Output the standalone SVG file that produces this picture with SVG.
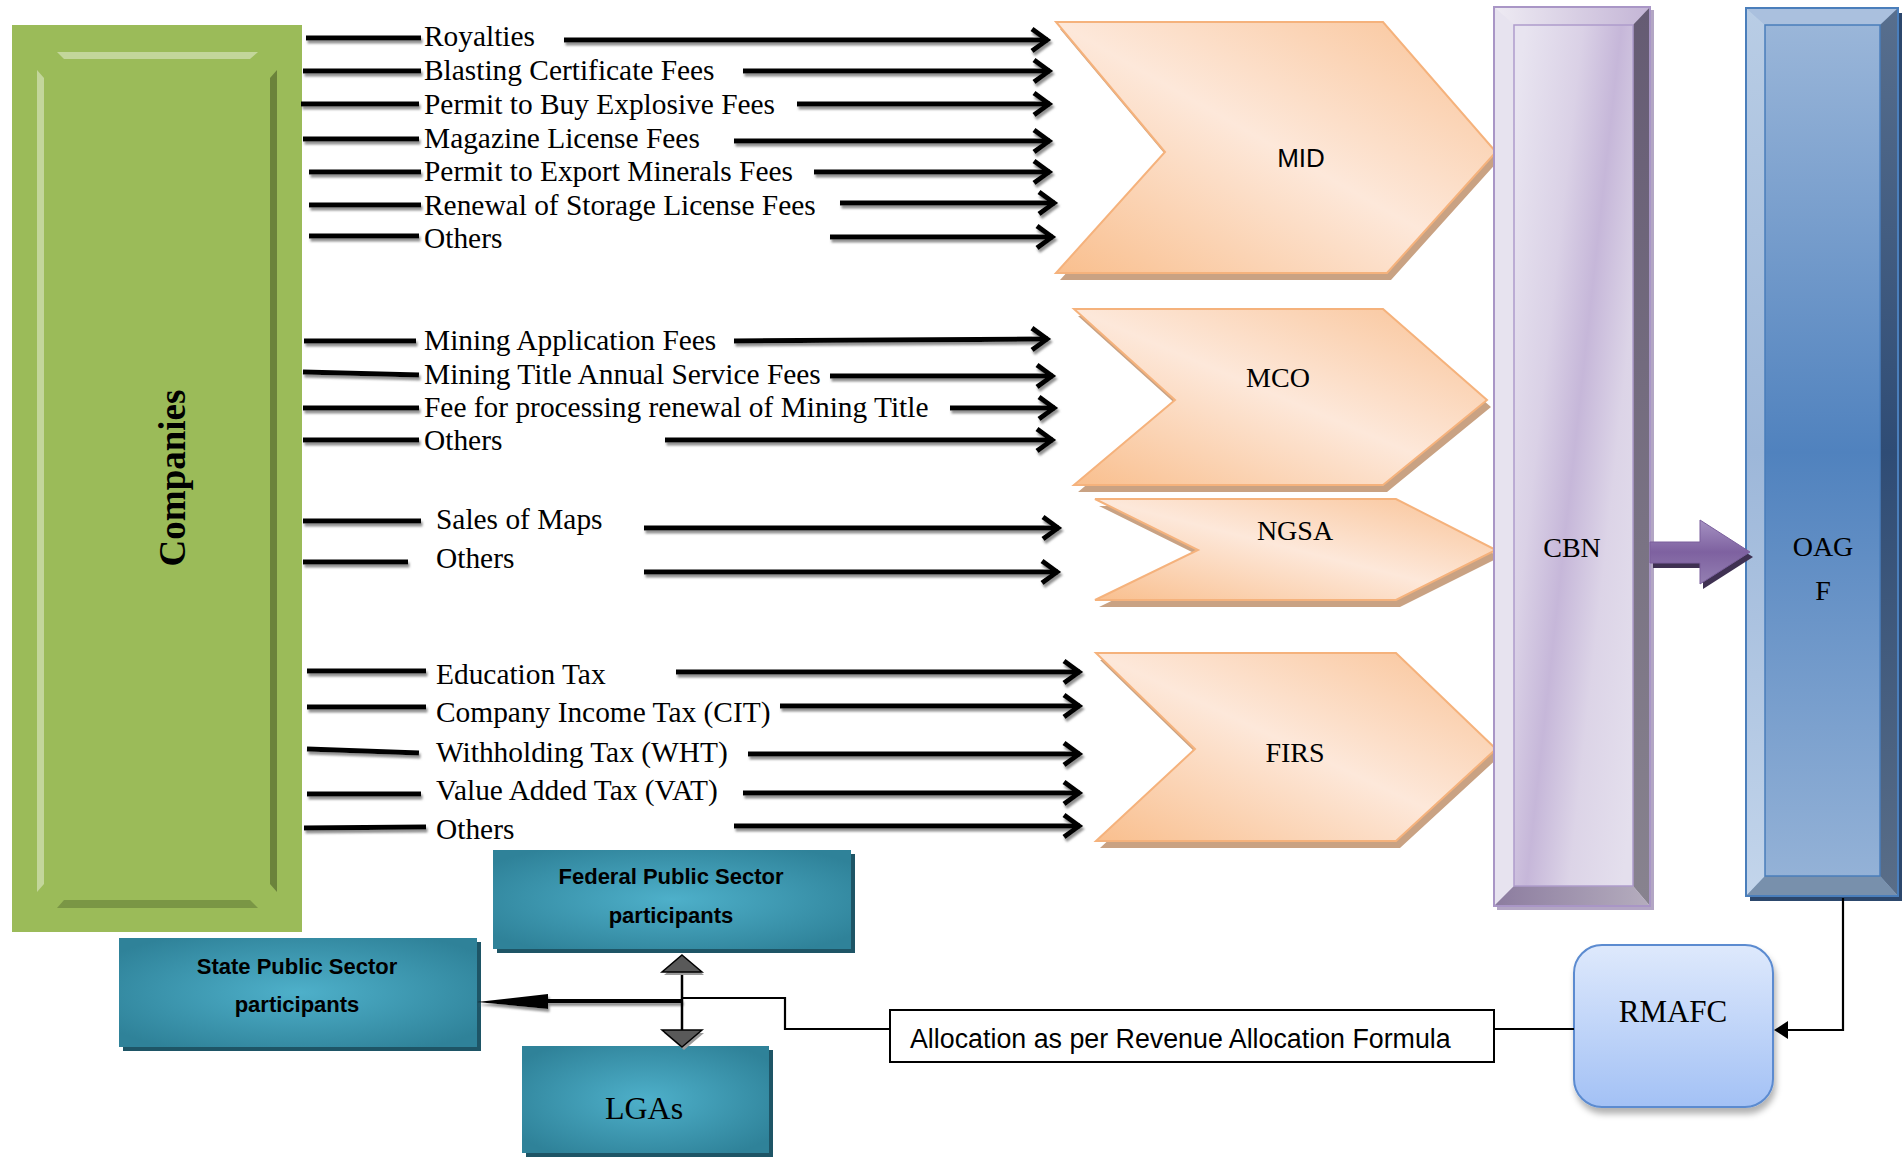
<svg xmlns="http://www.w3.org/2000/svg" width="1903" height="1157" viewBox="0 0 1903 1157">
<defs>
<style>
.lbl{font-family:"Liberation Serif","Times New Roman",serif;font-size:29.4px;fill:#000}
.cam{font-family:"Liberation Serif","Times New Roman",serif;font-size:28px;text-anchor:middle;fill:#000}
.sans{font-family:"Liberation Sans",Arial,sans-serif;fill:#000}
.bold{font-family:"Liberation Sans",Arial,sans-serif;font-weight:bold;font-size:22px;text-anchor:middle;fill:#000}
.w{stroke:#000;stroke-width:5;fill:none}
.a{stroke:#000;stroke-width:5;fill:none;marker-end:url(#ah)}
.thin{stroke:#000;stroke-width:2.2;fill:none}
.chev{fill:url(#peach);stroke:#F5B27C;stroke-width:2}
.chsh{fill:#C9A283}
.teal{fill:url(#teal)}
.tsh{fill:#1E5566}
</style>
<marker id="ah" markerUnits="userSpaceOnUse" viewBox="0 0 24 28" markerWidth="24" markerHeight="28" refX="21" refY="14" orient="auto" overflow="visible">
<polyline points="5,3 20,14 5,25" fill="none" stroke="#000" stroke-width="5" stroke-linejoin="miter"/>
</marker>
<filter id="lsh" filterUnits="userSpaceOnUse" x="0" y="0" width="1903" height="1157">
<feDropShadow dx="1.5" dy="3" stdDeviation="0.8" flood-color="#7f7f7f" flood-opacity="0.85"/>
</filter>
<filter id="soft" x="-20%" y="-20%" width="140%" height="140%">
<feDropShadow dx="2" dy="6" stdDeviation="3" flood-color="#000" flood-opacity="0.3"/>
</filter>
<linearGradient id="peach" x1="0" y1="1" x2="1" y2="0">
<stop offset="0" stop-color="#F9BF8E"/>
<stop offset="0.5" stop-color="#FDE8DA"/>
<stop offset="1" stop-color="#F9C295"/>
</linearGradient>
<radialGradient id="teal" cx="0.5" cy="0.5" r="0.62">
<stop offset="0" stop-color="#4EB0CA"/>
<stop offset="1" stop-color="#2F8299"/>
</radialGradient>
<linearGradient id="cbnIn" gradientUnits="userSpaceOnUse" x1="1480" y1="435" x2="1670" y2="456">
<stop offset="0" stop-color="#E8E4F0"/>
<stop offset="0.3" stop-color="#DAD1E6"/>
<stop offset="0.5" stop-color="#C6B7D9"/>
<stop offset="0.72" stop-color="#DCD4E7"/>
<stop offset="1" stop-color="#E4DFED"/>
</linearGradient>
<linearGradient id="cbnTop" x1="0" y1="0" x2="1" y2="0">
<stop offset="0" stop-color="#EEEBF3"/>
<stop offset="1" stop-color="#C4B5D6"/>
</linearGradient>
<linearGradient id="cbnRight" x1="0" y1="0" x2="0" y2="1">
<stop offset="0" stop-color="#655B73"/>
<stop offset="1" stop-color="#88838F"/>
</linearGradient>
<linearGradient id="cbnBot" x1="0" y1="0" x2="1" y2="0">
<stop offset="0" stop-color="#8C7C9F"/>
<stop offset="1" stop-color="#B5ADBE"/>
</linearGradient>
<linearGradient id="oagIn" x1="0" y1="0" x2="0" y2="1">
<stop offset="0" stop-color="#9DB8DA"/>
<stop offset="0.5" stop-color="#5082BE"/>
<stop offset="1" stop-color="#97B4D8"/>
</linearGradient>
<linearGradient id="oagLeft" x1="0" y1="0" x2="0" y2="1">
<stop offset="0" stop-color="#B9CDE5"/>
<stop offset="0.5" stop-color="#9DB7D9"/>
<stop offset="1" stop-color="#C3D5EB"/>
</linearGradient>
<linearGradient id="oagRight" x1="0" y1="0" x2="0" y2="1">
<stop offset="0" stop-color="#586F8E"/>
<stop offset="0.5" stop-color="#2F4C75"/>
<stop offset="1" stop-color="#5A6E88"/>
</linearGradient>
<linearGradient id="rmafc" x1="0" y1="0" x2="0" y2="1">
<stop offset="0" stop-color="#DEE9FC"/>
<stop offset="1" stop-color="#A3C1F5"/>
</linearGradient>
<linearGradient id="purp" x1="0" y1="0" x2="0" y2="1">
<stop offset="0" stop-color="#A591C2"/>
<stop offset="0.5" stop-color="#7E61A0"/>
<stop offset="1" stop-color="#9480B2"/>
</linearGradient>
</defs>
<rect width="1903" height="1157" fill="#fff"/>

<g id="companies">
<rect x="12" y="25" width="290" height="907" fill="#9BBB59"/>
<polygon points="57,52 258,52 250,59 64,59" fill="#C3D69B"/>
<polygon points="37,70 44,78 44,884 37,892" fill="#C3D69B"/>
<polygon points="277,70 270,78 270,884 277,892" fill="#6B833B"/>
<polygon points="57,908 258,908 250,900 64,900" fill="#7A9645"/>
<text transform="translate(185,478) rotate(-90)" text-anchor="middle" font-family="Liberation Serif, Times New Roman, serif" font-weight="bold" font-size="37">Companies</text>
</g>

<g id="labels">
<text class="lbl" x="424" y="46">Royalties</text>
<text class="lbl" x="424" y="80">Blasting Certificate Fees</text>
<text class="lbl" x="424" y="114">Permit to Buy Explosive Fees</text>
<text class="lbl" x="424" y="148">Magazine License Fees</text>
<text class="lbl" x="424" y="181">Permit to Export Minerals Fees</text>
<text class="lbl" x="424" y="215">Renewal of Storage License Fees</text>
<text class="lbl" x="424" y="248">Others</text>
<text class="lbl" x="424" y="350">Mining Application Fees</text>
<text class="lbl" x="424" y="384">Mining Title Annual Service Fees</text>
<text class="lbl" x="424" y="417">Fee for processing renewal of Mining Title</text>
<text class="lbl" x="424" y="450">Others</text>
<text class="lbl" x="436" y="529">Sales of Maps</text>
<text class="lbl" x="436" y="568">Others</text>
<text class="lbl" x="436" y="684">Education Tax</text>
<text class="lbl" x="436" y="722">Company Income Tax (CIT)</text>
<text class="lbl" x="436" y="762">Withholding Tax (WHT)</text>
<text class="lbl" x="436" y="800">Value Added Tax (VAT)</text>
<text class="lbl" x="436" y="839">Others</text>
</g>

<g id="mid">
<polygon class="chsh" points="1060,29 1387,29 1500,159 1391,280 1060,280 1169,159"/>
<polygon class="chev" points="1056,22 1383,22 1496,152 1387,273 1056,273 1165,152"/>
<text class="sans" x="1301" y="167" font-size="26" text-anchor="middle">MID</text>
</g>
<g id="mco">
<polygon class="chsh" points="1078,316 1387,316 1491,407 1387,492 1078,492 1179,407"/>
<polygon class="chev" points="1074,309 1383,309 1487,400 1383,485 1074,485 1175,400"/>
<text class="cam" x="1278" y="387">MCO</text>
</g>
<g id="ngsa">
<polygon class="chsh" points="1099,506 1400,506 1500,557 1400,607 1099,607 1202,557"/>
<polygon class="chev" points="1095,499 1396,499 1496,550 1396,600 1095,600 1198,550"/>
<text class="cam" x="1295" y="540">NGSA</text>
</g>
<g id="firs">
<polygon class="chsh" points="1100,660 1400,660 1500,756 1400,848 1100,848 1199,756"/>
<polygon class="chev" points="1096,653 1396,653 1496,749 1396,841 1096,841 1195,749"/>
<text class="cam" x="1295" y="762">FIRS</text>
</g>

<g id="cbn">
<rect x="1497" y="10" width="157" height="900" fill="#B3A6C4"/>
<rect x="1494" y="7" width="156" height="899" fill="url(#cbnIn)"/>
<polygon points="1494,7 1650,7 1633,25 1514,25" fill="url(#cbnTop)"/>
<polygon points="1494,7 1514,25 1514,886 1494,906" fill="#E7E3EF"/>
<polygon points="1650,7 1650,906 1633,886 1633,25" fill="url(#cbnRight)"/>
<polygon points="1494,906 1514,886 1633,886 1650,906" fill="url(#cbnBot)"/>
<rect x="1514" y="25" width="119" height="861" fill="none" stroke="#AE9CCB" stroke-width="1.5"/>
<rect x="1494" y="7" width="156" height="899" fill="none" stroke="#A996C6" stroke-width="2"/>
<text class="cam" x="1572" y="557">CBN</text>
</g>

<g id="oagf">
<rect x="1750" y="13" width="152" height="888" fill="#2C476C"/>
<rect x="1746" y="8" width="152" height="888" fill="url(#oagIn)"/>
<polygon points="1746,8 1898,8 1880,25 1765,25" fill="#AAC0DE"/>
<polygon points="1746,8 1765,25 1765,876 1746,896" fill="url(#oagLeft)"/>
<polygon points="1898,8 1898,896 1880,876 1880,25" fill="url(#oagRight)"/>
<polygon points="1746,896 1765,876 1880,876 1898,896" fill="#7890AC"/>
<rect x="1765" y="25" width="115" height="851" fill="none" stroke="#4A7EBB" stroke-width="1.5"/>
<rect x="1746" y="8" width="152" height="888" fill="none" stroke="#4A7EBB" stroke-width="2"/>
<text class="cam" x="1823" y="556">OAG</text>
<text class="cam" x="1823" y="600">F</text>
</g>

<g id="rmafc">
<rect x="1574" y="945" width="199" height="162" rx="28" fill="url(#rmafc)" stroke="#5B8BD0" stroke-width="2" filter="url(#soft)"/>
<text x="1673" y="1022" text-anchor="middle" font-family="Liberation Serif, Times New Roman, serif" font-size="31">RMAFC</text>
</g>

<g id="allocation">
<rect x="890" y="1010" width="604" height="52" fill="#fff" stroke="#000" stroke-width="2"/>
<text class="sans" x="910" y="1048" font-size="26.8">Allocation as per Revenue Allocation Formula</text>
</g>

<g id="federal">
<rect class="tsh" x="497" y="854" width="358" height="99"/>
<rect class="teal" x="493" y="850" width="358" height="99"/>
<text class="bold" x="671" y="884">Federal Public Sector</text>
<text class="bold" x="671" y="923">participants</text>
</g>
<g id="state">
<rect class="tsh" x="123" y="942" width="358" height="109"/>
<rect class="teal" x="119" y="938" width="358" height="109"/>
<text class="bold" x="297" y="974">State Public Sector</text>
<text class="bold" x="297" y="1012">participants</text>
</g>
<g id="lgas">
<rect class="tsh" x="526" y="1050" width="247" height="107"/>
<rect class="teal" x="522" y="1046" width="247" height="107"/>
<text x="644" y="1119" text-anchor="middle" font-family="Liberation Serif, Times New Roman, serif" font-size="32">LGAs</text>
</g>

<g id="connectors">
<g filter="url(#lsh)">
<line class="w" x1="306" y1="38" x2="421" y2="38"/>
<line class="w" x1="303" y1="71" x2="421" y2="71"/>
<line class="w" x1="301" y1="104" x2="419" y2="104"/>
<line class="w" x1="303" y1="139" x2="419" y2="139"/>
<line class="w" x1="309" y1="172" x2="421" y2="172"/>
<line class="w" x1="309" y1="205" x2="421" y2="205"/>
<line class="w" x1="309" y1="236" x2="419" y2="236"/>
<line class="w" x1="304" y1="341" x2="416" y2="341"/>
<line class="w" x1="303" y1="372" x2="419" y2="375"/>
<line class="w" x1="303" y1="408" x2="419" y2="408"/>
<line class="w" x1="303" y1="440" x2="419" y2="440"/>
<line class="w" x1="303" y1="521" x2="421" y2="521"/>
<line class="w" x1="303" y1="562" x2="408" y2="562"/>
<line class="w" x1="307" y1="671" x2="426" y2="671"/>
<line class="w" x1="307" y1="707" x2="426" y2="707"/>
<line class="w" x1="307" y1="749" x2="419" y2="753"/>
<line class="w" x1="307" y1="794" x2="421" y2="794"/>
<line class="w" x1="304" y1="828" x2="426" y2="827"/>

<line class="a" x1="564" y1="40" x2="1048" y2="40"/>
<line class="a" x1="743" y1="71" x2="1050" y2="71"/>
<line class="a" x1="797" y1="104" x2="1050" y2="104"/>
<line class="a" x1="734" y1="141" x2="1050" y2="141"/>
<line class="a" x1="814" y1="172" x2="1050" y2="172"/>
<line class="a" x1="840" y1="203" x2="1055" y2="203"/>
<line class="a" x1="830" y1="237" x2="1053" y2="237"/>
<line class="a" x1="734" y1="341" x2="1048" y2="339"/>
<line class="a" x1="830" y1="376" x2="1053" y2="376"/>
<line class="a" x1="950" y1="408" x2="1055" y2="408"/>
<line class="a" x1="665" y1="440" x2="1053" y2="440"/>
<line class="a" x1="644" y1="528" x2="1059" y2="528"/>
<line class="a" x1="644" y1="572" x2="1058" y2="572"/>
<line class="a" x1="676" y1="672" x2="1080" y2="672"/>
<line class="a" x1="780" y1="706" x2="1080" y2="706"/>
<line class="a" x1="748" y1="754" x2="1080" y2="754"/>
<line class="a" x1="743" y1="793" x2="1080" y2="793"/>
<line class="a" x1="734" y1="826" x2="1080" y2="826"/>

<line x1="682" y1="1001" x2="546" y2="1001" stroke="#000" stroke-width="4"/>
<polygon points="477,1002 548,994 548,1009" fill="#000"/>
</g>

<polygon points="1653,547 1703,547 1703,525 1753,557 1703,589 1703,568 1653,568" fill="#3F3152"/>
<polygon points="1650,542 1700,542 1700,520 1750,552 1700,584 1700,563 1650,563" fill="url(#purp)" stroke="#7A5F9C" stroke-width="1"/>

<line x1="682" y1="970" x2="682" y2="1032" stroke="#000" stroke-width="2.5"/>
<polygon points="684,958 704,975 664,975" fill="#9a9a9a"/>
<polygon points="682,955 702,972 662,972" fill="#595959" stroke="#000" stroke-width="1.5"/>
<polygon points="684,1050 704,1033 664,1033" fill="#9a9a9a"/>
<polygon points="682,1047 702,1030 662,1030" fill="#595959" stroke="#000" stroke-width="1.5"/>

<polyline class="thin" points="682,998 785,998 785,1029 890,1029"/>
<line class="thin" x1="1494" y1="1029" x2="1574" y2="1029" stroke-width="3"/>
<polyline class="thin" points="1843,898 1843,1030 1786,1030"/>
<polygon points="1774,1030 1788,1021 1788,1039" fill="#000"/>
</g>
</svg>
